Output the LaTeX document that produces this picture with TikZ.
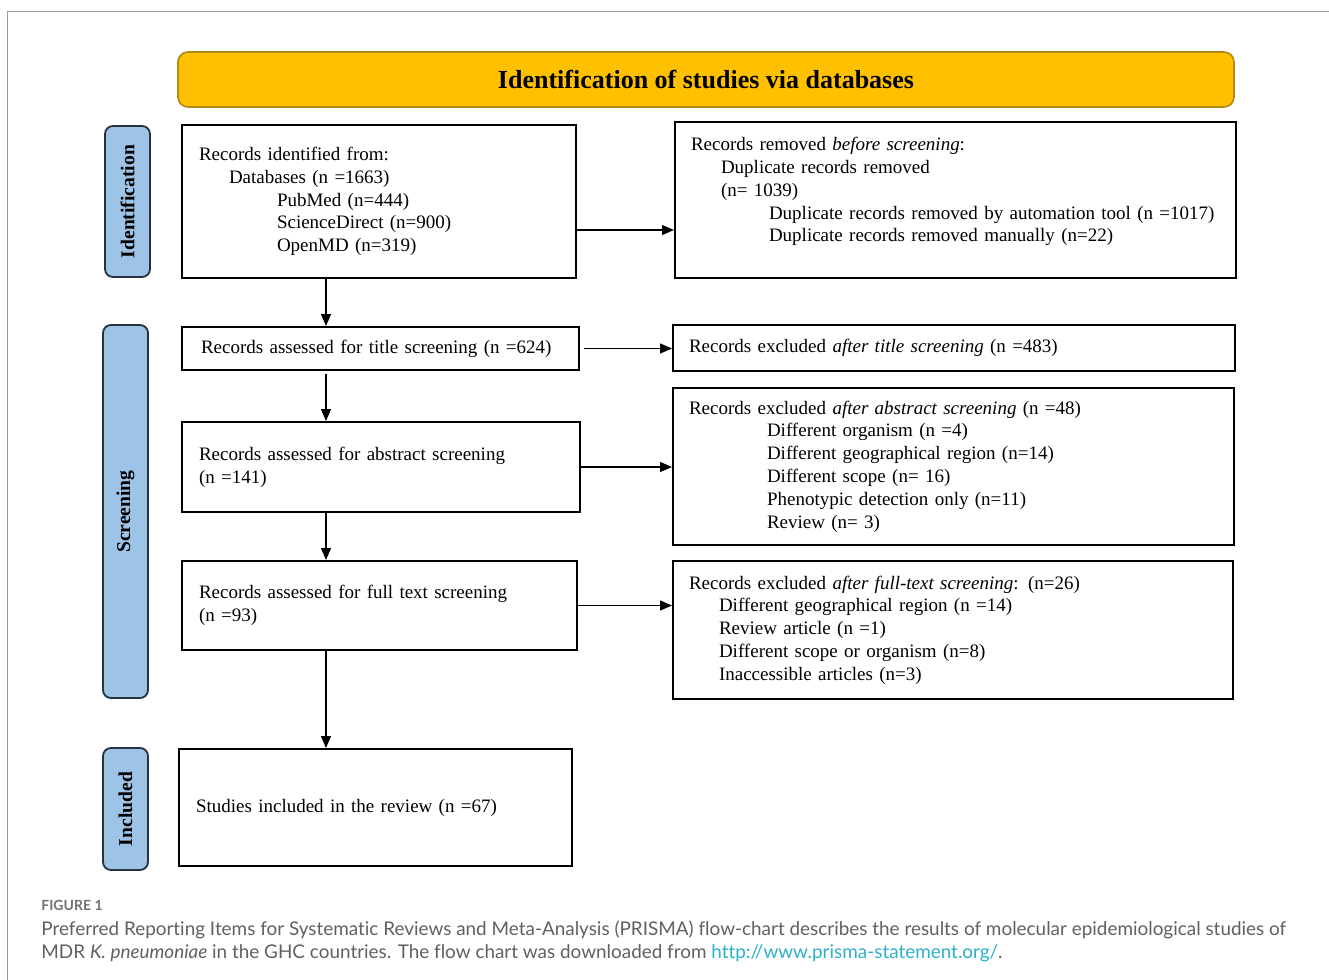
\documentclass[tikz,border=0pt]{standalone}
\usepackage{fontspec}
\setmainfont{Liberation Serif}
\newfontfamily\capfont[Ligatures=NoCommon]{Lato}
\usetikzlibrary{arrows.meta}
\definecolor{bannerfill}{HTML}{FFC000}
\definecolor{bannerdraw}{HTML}{B08A10}
\definecolor{stagefill}{HTML}{9DC3E6}
\definecolor{stagedraw}{HTML}{26323E}
\definecolor{capgrey}{HTML}{606060}
\definecolor{linkcol}{HTML}{2BB0C9}
\newcommand\XL{181}
\newcommand\XR{672}
\newcommand\XS{326}
\newcommand\dI{\hspace*{15pt}}
\newcommand\dII{\hspace*{39pt}}

\begin{document}
\begin{tikzpicture}
  [x=0.5pt, y=-0.5pt,
   font=\fontsize{9.5}{11.4}\selectfont,
   box/.style = {
     draw, line width=1pt, anchor=north west,
     inner xsep=8.5pt, align=left
   },
   rbox/.style = {
     box, inner xsep=8pt
   },
   stage/.style = {
     draw=stagedraw, fill=stagefill, line width=0.9pt, rounded corners=4pt,
     rotate=90, minimum height=22.5pt, inner sep=0pt,
     font=\fontsize{9.8}{11.4}\selectfont\bfseries
   },
   banner/.style = {
     draw=bannerdraw, fill=bannerfill, line width=0.8pt, rounded corners=5pt,
     minimum width=528pt, minimum height=27.5pt,
     font=\fontsize{13}{15}\selectfont\bfseries
   },
   arr/.style = {
     line width=0.6pt, -{Triangle[length=6pt,width=5pt]}
   }]

	\useasboundingbox (0,0) rectangle (1329,980);
	\draw[line width=0.5pt, black!40] (1329,11) -- (7,11) -- (7,980);

	% Header.
	\node[banner] at (706, 79.5) (head) {Identification of studies via databases};

	% Stage labels.
	\node[stage, minimum width=75.5pt] at (127.5, 201.5) (idlab) {Identification};
	\node[stage, minimum width=186.5pt] at (125.5, 511.5) (scrlab) {Screening};
	\node[stage, minimum width=61pt] at (125.5, 809) (inclab) {Included};

	% Left column.
	\node[box, text width=180pt, minimum height=76.5pt] at (\XL, 124) (ident)
		{Records identified from:\\
		 \dI Databases (n =1663)\\
		 \dII PubMed (n=444)\\
		 \dII ScienceDirect (n=900)\\
		 \dII OpenMD (n=319)};
	\node[box, text width=179.5pt, minimum height=21.5pt, inner xsep=9.5pt] at (\XL, 326) (title)
		{Records assessed for title screening (n =624)};
	\node[box, text width=182pt, minimum height=45pt] at (\XL, 421) (abstr)
		{Records assessed for abstract screening\\(n =141)};
	\node[box, text width=180.5pt, minimum height=44.5pt] at (\XL, 560) (full)
		{Records assessed for full text screening\\(n =93)};
	\node[box, text width=179.5pt, minimum height=58.5pt] at (178, 748) (incl)
		{Studies included in the review (n =67)};

	% Right column.
	\node[rbox, text width=264.5pt, minimum height=78pt] at (674, 121) (removed)
		{Records removed \textit{before screening}:\\
		 \dI Duplicate records removed\\
		 \dI (n= 1039)\\
		 \dII \mbox{Duplicate records removed by automation tool (n =1017)}\\
		 \dII Duplicate records removed manually (n=22)\\[-1pt]
		 \mbox{}};
	\node[rbox, text width=265pt, minimum height=23pt] at (\XR, 324) (extitle)
		{Records excluded \textit{after title screening} (n =483)};
	\node[rbox, text width=264.5pt, minimum height=78.5pt] at (\XR, 387) (exabs)
		{Records excluded \textit{after abstract screening} (n =48)\\
		 \dII Different organism (n =4)\\
		 \dII Different geographical region (n=14)\\
		 \dII Different scope (n= 16)\\
		 \dII Phenotypic detection only (n=11)\\
		 \dII Review (n= 3)};
	\node[rbox, text width=264pt, minimum height=69pt] at (\XR, 560) (exfull)
		{Records excluded \textit{after full-text screening}: (n=26)\\
		 \dI Different geographical region (n =14)\\
		 \dI Review article (n =1)\\
		 \dI Different scope or organism (n=8)\\
		 \dI Inaccessible articles (n=3)};

	% Vertical flow.
	\coordinate (spine) at (\XS, 0);
	\draw[arr] (ident.south -| spine) -- (title.north -| spine);
	\draw[arr, shorten <=1.5pt] (title.south -| spine) -- (abstr.north -| spine);
	\draw[arr] (abstr.south -| spine) -- (full.north -| spine);
	\draw[arr] (full.south -| spine) -- (incl.north -| spine);

	% Exclusions.
	\draw[arr] ([yshift=-14.25pt]ident.east) coordinate (idout) -- (idout -| removed.west);
	\draw[arr, shorten <=2pt] (title.east) -- (title.east -| extitle.west);
	\draw[arr] (abstr.east) -- (abstr.east -| exabs.west);
	\draw[arr] (full.east) -- (full.east -| exfull.west);

	% Caption.
	\node[anchor=west, inner sep=0pt, text=capgrey!90, font=\capfont\fontsize{7}{8}\selectfont\bfseries]
		at (41, 905) (fig) {FIGURE 1};
	\node[anchor=north west, inner sep=0pt, align=left, text=capgrey, font=\capfont\fontsize{9.45}{11.5}\selectfont]
		at (41, 920) (cap)
		{Preferred Reporting Items for Systematic Reviews and Meta-Analysis (PRISMA) flow-chart describes the results of molecular epidemiological studies of\\
		 MDR \textit{K. pneumoniae} in the GHC countries. The flow chart was downloaded from {\color{linkcol}http://www.prisma-statement.org/}.};

\end{tikzpicture}
\end{document}
